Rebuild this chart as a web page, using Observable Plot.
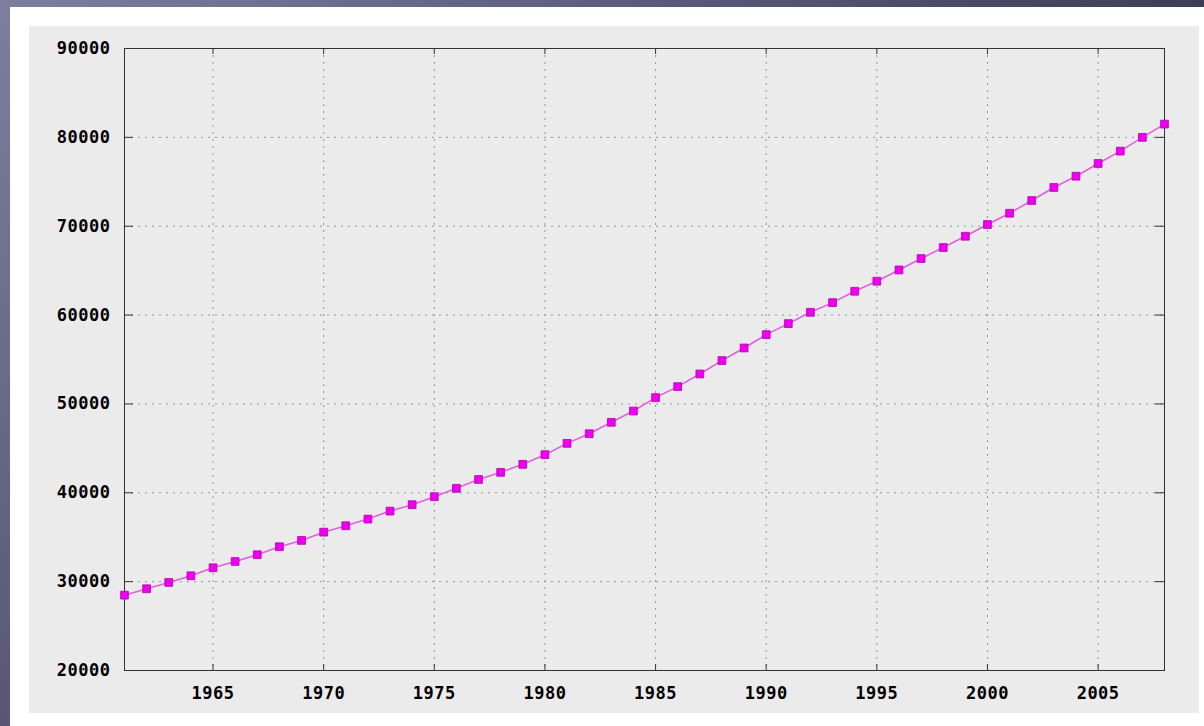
<!DOCTYPE html>
<html>
<head>
<meta charset="utf-8">
<script src="https://cdn.jsdelivr.net/npm/d3@7"></script>
<script src="https://cdn.jsdelivr.net/npm/@observablehq/plot@0.6"></script>
<style>
  html, body { margin: 0; padding: 0; }
  body {
    width: 1204px; height: 726px; position: relative; overflow: hidden;
    background: linear-gradient(135deg, #7e7e9e 0%, #5a5a78 35%, #36364f 70%, #2c2c44 100%);
  }
  #panel { position: absolute; left: 10px; top: 7px; right: 0; bottom: 0; background: #ffffff; }
  #gray { position: absolute; left: 29px; top: 26px; width: 1170px; height: 687px; background: #ebebeb; }
  #chart { position: absolute; left: 0; top: 0; }
  #chart text { letter-spacing: 0.5px; }
</style>
</head>
<body>
<div id="panel"></div>
<div id="gray"></div>
<div id="chart"></div>
<script>
const years = [1961,1962,1963,1964,1965,1966,1967,1968,1969,1970,
               1971,1972,1973,1974,1975,1976,1977,1978,1979,1980,
               1981,1982,1983,1984,1985,1986,1987,1988,1989,1990,
               1991,1992,1993,1994,1995,1996,1997,1998,1999,2000,
               2001,2002,2003,2004,2005,2006,2007,2008];
const population = [28480,29200,29910,30660,31560,32270,33030,33930,34640,35570,
                    36290,37040,37940,38660,39560,40500,41500,42300,43200,44290,
                    45560,46650,47930,49200,50710,51950,53370,54880,56300,57800,
                    59040,60310,61400,62680,63810,65080,66360,67600,68870,70190,
                    71460,72890,74360,75630,77060,78450,80000,81490];
const xTicks = [1965,1970,1975,1980,1985,1990,1995,2000,2005];
const yTicks = [20000,30000,40000,50000,60000,70000,80000,90000];
const xDomain = [1961, 2008];
const yDomain = [20000, 90000];

const data = years.map((y, i) => ({year: y, value: population[i]}));

const W = 1204, H = 726, mL = 124, mR = 40, mT = 48, mB = 56;
const fw = W - mL - mR, fh = H - mT - mB;

const chart = Plot.plot({
  width: W, height: H,
  marginLeft: mL, marginRight: mR, marginTop: mT, marginBottom: mB,
  style: {background: "transparent", fontFamily: "'DejaVu Sans Mono', monospace", fontSize: "17px", fontWeight: "bold", color: "#000"},
  x: {domain: xDomain, label: null},
  y: {domain: yDomain, label: null},
  marks: [
    Plot.gridX(xTicks, {stroke: "#959595", strokeOpacity: 1, strokeDasharray: "2,5"}),
    Plot.gridY(yTicks.slice(1, -1), {stroke: "#959595", strokeOpacity: 1, strokeDasharray: "2,5"}),
    Plot.frame({stroke: "#333", strokeWidth: 1}),
    // inward ticks
    Plot.ruleX(xTicks, {x: d => d, insetTop: fh - 6, stroke: "#333"}),
    Plot.ruleX(xTicks, {x: d => d, insetBottom: fh - 6, stroke: "#333"}),
    Plot.ruleY(yTicks, {y: d => d, insetRight: fw - 9, stroke: "#333"}),
    Plot.ruleY(yTicks, {y: d => d, insetLeft: fw - 9, stroke: "#333"}),
    Plot.axisX({ticks: xTicks, tickSize: 0, tickPadding: 16, tickFormat: d => String(d), fill: "#000"}),
    Plot.axisY({ticks: yTicks, tickSize: 0, tickPadding: 14, tickFormat: d => String(d), fill: "#000"}),
    Plot.line(data, {x: "year", y: "value", stroke: "#e060e0", strokeWidth: 1.6}),
    Plot.dot(data, {x: "year", y: "value", symbol: "square", r: 4.4, fill: "#ee00ee", stroke: "#b400b4", strokeWidth: 0.8})
  ]
});
document.getElementById("chart").appendChild(chart);
</script>
</body>
</html>
